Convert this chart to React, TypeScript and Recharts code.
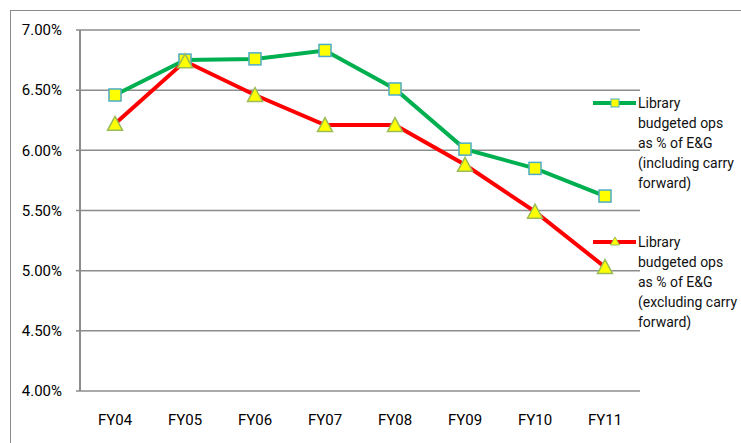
import React from 'react';
import { LineChart, Line, XAxis, YAxis, CartesianGrid } from 'recharts';

const categories = ['FY04', 'FY05', 'FY06', 'FY07', 'FY08', 'FY09', 'FY10', 'FY11'];
const includingCarry = [6.46, 6.75, 6.76, 6.83, 6.51, 6.01, 5.85, 5.62];
const excludingCarry = [6.22, 6.74, 6.46, 6.21, 6.21, 5.88, 5.49, 5.03];
const yTicks = [4, 4.5, 5, 5.5, 6, 6.5, 7];
const legendIncluding = ['Library', 'budgeted ops', 'as % of E&G', '(including carry', 'forward)'];
const legendExcluding = ['Library', 'budgeted ops', 'as % of E&G', '(excluding carry', 'forward)'];

const GREEN = '#00B050';
const RED = '#FF0000';
const YELLOW = '#FFFF00';
const SQ_STROKE = '#4BACC6';
const TRI_STROKE = '#9BBB59';
const GRID = '#8c8c8c';
const FONT = 'Roboto, "Noto Sans", sans-serif';

const data = categories.map((c, i) => ({
  x: i + 0.5,
  cat: c,
  inc: includingCarry[i],
  exc: excludingCarry[i],
}));
const boundaryTicks = categories.map((_, i) => i).concat(categories.length);
const labelTicks = categories.map((_, i) => i + 0.5);

const SquareDot = (props: any) => {
  const { cx, cy, index } = props;
  if (cx == null || cy == null) return <g key={`s${index}`} />;
  return (
    <rect key={`s${index}`} x={cx - 6} y={cy - 6} width={12} height={12}
      fill={YELLOW} stroke={SQ_STROKE} strokeWidth={1.5} />
  );
};

const TriDot = (props: any) => {
  const { cx, cy, index } = props;
  if (cx == null || cy == null) return <g key={`t${index}`} />;
  const pts = `${cx},${cy - 7.5} ${cx - 7.5},${cy + 6.5} ${cx + 7.5},${cy + 6.5}`;
  return <polygon key={`t${index}`} points={pts} fill={YELLOW} stroke={TRI_STROKE} strokeWidth={1.5} />;
};

const LegendItem = ({ top, color, marker, lines }: { top: number; color: string; marker: 'sq' | 'tri'; lines: string[] }) => (
  <div style={{ position: 'absolute', left: 592, top, width: 149 }}>
    <svg width={46} height={20} style={{ position: 'absolute', left: 0, top: 0 }}>
      <line x1={1} y1={10} x2={44} y2={10} stroke={color} strokeWidth={4} />
      {marker === 'sq' ? (
        <rect x={19} y={6} width={8} height={8} fill={YELLOW} stroke={SQ_STROKE} strokeWidth={1} />
      ) : (
        <polygon points="23,5 18.5,13 27.5,13" fill={YELLOW} stroke={TRI_STROKE} strokeWidth={1} />
      )}
    </svg>
    <div style={{ position: 'absolute', left: 46, top: 0, fontFamily: FONT, fontSize: 14, lineHeight: '20px', color: '#111', whiteSpace: 'nowrap' }}>
      {lines.map((l, i) => (
        <div key={i}>{l}</div>
      ))}
    </div>
  </div>
);

export default function App() {
  return (
    <div style={{ position: 'fixed', left: 0, top: 0, width: 741, height: 443, overflow: 'hidden', background: '#fff' }}>
      <div style={{ position: 'absolute', left: 10, top: 10, width: 780, height: 480, border: '1px solid #8a8a8a' }} />
      <div style={{ position: 'absolute', left: 0, top: 0 }}>
        <LineChart width={741} height={443} data={data} margin={{ top: 30, right: 101, left: 0, bottom: 0 }}>
          <CartesianGrid vertical={false} stroke={GRID} strokeWidth={1.5} xAxisId="b" />
          <XAxis xAxisId="b" type="number" dataKey="x" domain={[0, 8]} ticks={boundaryTicks}
            allowDataOverflow tick={false} tickSize={5} height={0}
            axisLine={{ stroke: GRID, strokeWidth: 2 }} tickLine={{ stroke: GRID, strokeWidth: 1.5 }} />
          <XAxis xAxisId="l" type="number" dataKey="x" domain={[0, 8]} ticks={labelTicks}
            allowDataOverflow tickFormatter={(v: number) => categories[Math.floor(v)]}
            axisLine={false} tickLine={false} tickSize={0} tickMargin={23} height={52}
            tick={{ fill: '#000', fontSize: 15, fontFamily: FONT }} />
          <YAxis type="number" domain={[4, 7]} ticks={yTicks} width={80} allowDataOverflow
            tickFormatter={(v: number) => `${v.toFixed(2)}%`}
            axisLine={{ stroke: GRID, strokeWidth: 2 }} tickLine={{ stroke: GRID, strokeWidth: 1.5 }}
            tickSize={4} tickMargin={14}
            tick={{ fill: '#000', fontSize: 15, fontFamily: FONT }} />
          <Line xAxisId="b" type="linear" dataKey="inc" stroke={GREEN} strokeWidth={4}
            dot={SquareDot} activeDot={false} isAnimationActive={false} />
          <Line xAxisId="b" type="linear" dataKey="exc" stroke={RED} strokeWidth={4}
            dot={TriDot} activeDot={false} isAnimationActive={false} />
        </LineChart>
      </div>
      <LegendItem top={93} color={GREEN} marker="sq" lines={legendIncluding} />
      <LegendItem top={232} color={RED} marker="tri" lines={legendExcluding} />
    </div>
  );
}
